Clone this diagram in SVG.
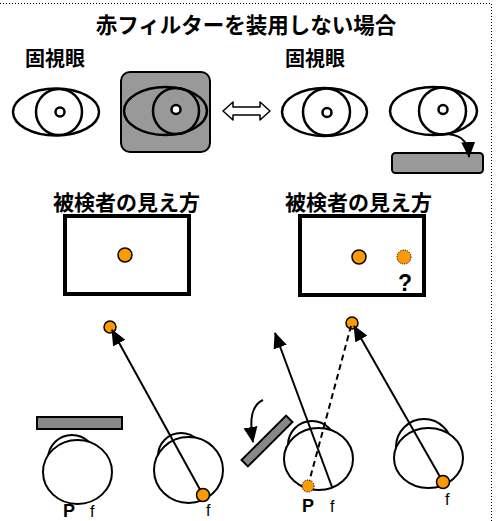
<svg xmlns="http://www.w3.org/2000/svg" width="501" height="521" viewBox="0 0 501 521">
  <defs>
    <style>
      .jp { font-family: "Noto Sans CJK JP", "Noto Sans", sans-serif; font-weight: bold; fill: #000; }
      .lat { font-family: "Liberation Sans", Arial, sans-serif; fill: #000; }
      .eye { fill: #fff; stroke: #000; stroke-width: 2.5; }
      .eyeo { fill: none; stroke: #000; stroke-width: 2.5; }
      .ball { fill: #fff; stroke: #000; stroke-width: 2; }
      .dot { fill: #ff9900; stroke: #000; stroke-width: 1.5; }
      .ghost { fill: #ff9900; stroke: #000; stroke-width: 1; stroke-dasharray: 1.2 1.2; }
      .screen { fill: #fff; stroke: #000; stroke-width: 4; }
      .line { fill: none; stroke: #000; stroke-width: 2; }
      .bar { fill: #888; stroke: #000; stroke-width: 2; }
    </style>
    <marker id="head" viewBox="0 0 16 14" refX="15" refY="7" markerWidth="16" markerHeight="14" markerUnits="userSpaceOnUse" orient="auto">
      <path d="M0,0 L16,7 L0,14 z" fill="#000"/>
    </marker>
  </defs>

  <!-- frame -->
  <path d="M0,3.5 H491.5 V521" fill="none" stroke="#000" stroke-width="1" stroke-dasharray="1 2"/>

  <!-- headings -->
  <text class="jp" x="246" y="33" font-size="21.5" text-anchor="middle">赤フィルターを装用しない場合</text>
  <text class="jp" x="55" y="66" font-size="20" text-anchor="middle">固視眼</text>
  <text class="jp" x="315" y="66" font-size="20" text-anchor="middle">固視眼</text>

  <!-- top row: eyes -->
  <g id="eye-left-fix">
    <ellipse class="eye" cx="56" cy="112" rx="43" ry="23.5"/>
    <circle class="eyeo" cx="59" cy="112" r="23"/>
    <circle class="eyeo" cx="60" cy="112" r="4.5"/>
  </g>
  <g id="eye-left-covered">
    <rect x="121" y="72" width="89" height="80" rx="9" fill="#999" stroke="#000" stroke-width="2"/>
    <ellipse class="eyeo" cx="165.5" cy="111" rx="41.5" ry="24"/>
    <circle class="eyeo" cx="176" cy="111" r="23"/>
    <circle class="eye" cx="176" cy="109.5" r="4.5"/>
  </g>
  <g id="swap-arrow">
    <polygon points="223,111 233,102 233,107 260,107 260,102 270,111 260,120 260,115 233,115 233,120" fill="#fff" stroke="#000" stroke-width="1.5" stroke-linejoin="round"/>
  </g>
  <g id="eye-right-fix">
    <ellipse class="eye" cx="324.5" cy="112" rx="42.5" ry="24"/>
    <circle class="eyeo" cx="326.5" cy="112" r="23.5"/>
    <circle class="eyeo" cx="327" cy="112.5" r="4.5"/>
  </g>
  <g id="eye-right-dev">
    <ellipse class="eye" cx="433.5" cy="111" rx="43.5" ry="24"/>
    <circle class="eyeo" cx="442.5" cy="111" r="23.5"/>
    <circle class="eyeo" cx="443" cy="109.5" r="4.5"/>
  </g>
  <g id="cover-top">
    <rect x="392" y="153" width="91" height="20" rx="3.5" fill="#999" stroke="#000" stroke-width="2"/>
  </g>

  <!-- views seen by the subject -->
  <text class="jp" x="126.5" y="210" font-size="21" text-anchor="middle">被検者の見え方</text>
  <text class="jp" x="358.5" y="210" font-size="21" text-anchor="middle">被検者の見え方</text>
  <g id="view-left">
    <rect class="screen" x="65" y="216" width="124" height="78"/>
    <circle class="dot" cx="125" cy="255" r="7"/>
  </g>
  <g id="view-right">
    <rect class="screen" x="300" y="216" width="124" height="79"/>
    <circle class="dot" cx="359" cy="257" r="7"/>
    <circle class="ghost" cx="404" cy="257" r="7"/>
    <text class="lat" x="405" y="291" font-size="23" font-weight="bold" text-anchor="middle">?</text>
  </g>

  <!-- bottom: eyeballs seen from above -->
  <g id="ball-a">
    <rect class="bar" x="37" y="417" width="85" height="12"/>
    <circle class="ball" cx="72" cy="459" r="24"/>
    <ellipse class="ball" cx="77.5" cy="472" rx="34.5" ry="32"/>
    <text class="lat" x="63" y="517" font-size="18" font-weight="bold">P</text>
    <text class="lat" x="90" y="517" font-size="16">f</text>
  </g>
  <g id="ball-b">
    <circle class="ball" cx="181" cy="456" r="23"/>
    <ellipse class="ball" cx="188.5" cy="470" rx="34.5" ry="33"/>
    <text class="lat" x="206" y="516" font-size="16">f</text>
  </g>
  <g id="ball-c">
    <rect class="bar" x="-31.5" y="-4.5" width="63" height="9" transform="translate(267,441) rotate(-45)"/>
    <circle class="ball" cx="312" cy="445" r="24"/>
    <ellipse class="ball" cx="318.5" cy="459" rx="34.5" ry="31"/>
    <text class="lat" x="302" y="512" font-size="18" font-weight="bold">P</text>
    <text class="lat" x="330" y="512" font-size="16">f</text>
  </g>
  <g id="ball-d">
    <circle class="ball" cx="424" cy="447" r="28"/>
    <ellipse class="ball" cx="428.5" cy="458" rx="34.5" ry="30"/>
    <text class="lat" x="445" y="505" font-size="16">f</text>
  </g>

  <!-- targets -->
  <g id="targets">
    <circle class="dot" cx="110" cy="327" r="6"/>
    <circle class="dot" cx="352" cy="323" r="6"/>
  </g>

  <!-- connectors -->
  <g id="connectors">
    <path class="line" d="M440,134 C458,133 468,138 469,157" marker-end="url(#head)"/>
    <line class="line" x1="203" y1="495" x2="112" y2="330" marker-end="url(#head)"/>
    <line class="line" x1="332" y1="487" x2="275" y2="333" marker-end="url(#head)"/>
    <line class="line" x1="308" y1="486" x2="351" y2="326" stroke-dasharray="6 4"/>
    <line class="line" x1="443" y1="482" x2="354" y2="326" marker-end="url(#head)"/>
    <path class="line" d="M263,400 C252,405 249,418 253,442" marker-end="url(#head)"/>
  </g>

  <!-- fovea / fixation points on the balls -->
  <g id="fovea">
    <circle class="dot" cx="203" cy="495" r="6.5"/>
    <circle class="ghost" cx="308" cy="486" r="6"/>
    <circle class="dot" cx="443" cy="482" r="6.5"/>
  </g>
</svg>
